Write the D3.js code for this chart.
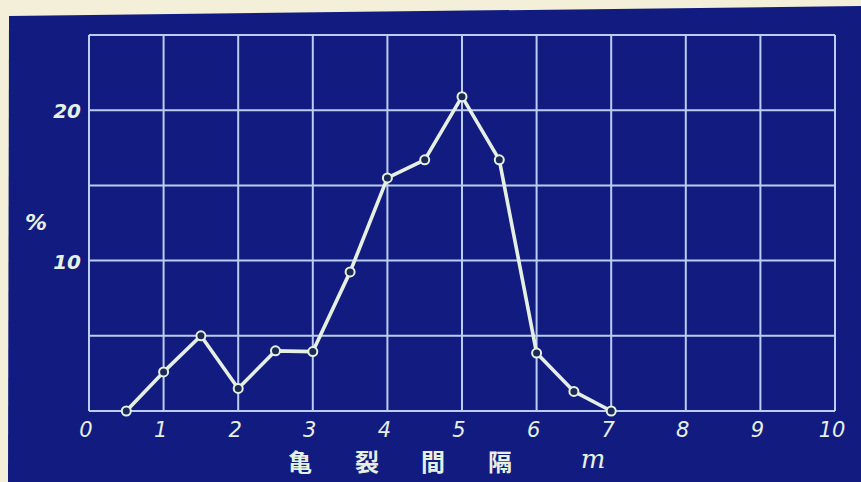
<!DOCTYPE html>
<html>
<head>
<meta charset="utf-8">
<script src="https://cdn.jsdelivr.net/npm/d3@7"></script>
<style>
  html, body { margin: 0; padding: 0; background: #f3efd8; }
  svg { display: block; }
</style>
</head>
<body>
<svg id="chart" width="861" height="482"></svg>
<script>
// Crack spacing (m) and frequency (%)
const spacing = [0.5, 1.0, 1.5, 2.0, 2.5, 3.0, 3.5, 4.0, 4.5, 5.0, 5.5, 6.0, 6.5, 7.0];
const percent = [0, 2.6, 5.0, 1.5, 4.0, 3.95, 9.25, 15.5, 16.7, 20.9, 16.7, 3.85, 1.3, 0];
const xTicks = [0, 1, 2, 3, 4, 5, 6, 7, 8, 9, 10];
const yGrid = [0, 5, 10, 15, 20, 25];
const yLabels = [10, 20];
const xTitle = ["亀", "裂", "間", "隔"];
const xUnit = "m";
const yTitle = "%";

const W = 861, H = 482;
const margin = { left: 89, right: 26, top: 35, bottom: 71 };
const navy = "#111b80";
const gridColor = "#bccdf2";
const ink = "#e6f0e2";

const svg = d3.select("#chart");

// Paper edge and navy blueprint sheet
svg.append("rect").attr("width", W).attr("height", H).attr("fill", "#f3efd8");
svg.append("path")
  .attr("d", `M9,16 L${W},6 L${W},${H} L8,${H} Z`)
  .attr("fill", navy);

const x = d3.scaleLinear().domain([0, 10]).range([margin.left, W - margin.right]);
const y = d3.scaleLinear().domain([0, 25]).range([H - margin.bottom, margin.top]);

// Grid: vertical lines every metre, horizontal every 5 %
const grid = svg.append("g").attr("stroke", gridColor).attr("stroke-width", 2).attr("fill", "none");
grid.selectAll("line.v").data(xTicks).join("line")
  .attr("class", "v")
  .attr("x1", d => x(d)).attr("x2", d => x(d))
  .attr("y1", y(0)).attr("y2", y(25));
grid.selectAll("line.h").data(yGrid).join("line")
  .attr("class", "h")
  .attr("x1", x(0)).attr("x2", x(10))
  .attr("y1", d => y(d)).attr("y2", d => y(d));

const labelFont = "'DejaVu Sans', sans-serif";

// X tick labels
svg.append("g").selectAll("text").data(xTicks).join("text")
  .attr("x", d => x(d) - 3)
  .attr("y", y(0) + 26)
  .attr("text-anchor", "middle")
  .attr("fill", ink)
  .attr("font-family", labelFont)
  .attr("font-style", "italic")
  .attr("font-size", 21)
  .text(d => d);

// Y tick labels
svg.append("g").selectAll("text").data(yLabels).join("text")
  .attr("x", x(0) - 8)
  .attr("y", d => y(d) + 8)
  .attr("text-anchor", "end")
  .attr("fill", ink)
  .attr("font-family", labelFont)
  .attr("font-style", "italic")
  .attr("font-weight", "bold")
  .attr("font-size", 20)
  .text(d => d);

// Y axis title
svg.append("text")
  .attr("x", 36).attr("y", 230)
  .attr("text-anchor", "middle")
  .attr("fill", ink)
  .attr("font-family", labelFont)
  .attr("font-style", "italic")
  .attr("font-weight", "bold")
  .attr("font-size", 22)
  .text(yTitle);

// X axis title
const titleX = [300, 367, 433, 500];
svg.append("g").selectAll("text").data(xTitle).join("text")
  .attr("x", (d, i) => titleX[i])
  .attr("y", 471)
  .attr("text-anchor", "middle")
  .attr("fill", ink)
  .attr("font-family", "'Noto Sans CJK JP', sans-serif")
  .attr("font-weight", "bold")
  .attr("font-size", 24)
  .text(d => d);
svg.append("text")
  .attr("x", 593).attr("y", 468)
  .attr("text-anchor", "middle")
  .attr("fill", ink)
  .attr("font-family", "'DejaVu Serif', serif")
  .attr("font-style", "italic")
  .attr("font-size", 26)
  .text(xUnit);

// Frequency polygon
const pts = spacing.map((s, i) => [s, percent[i]]);
svg.append("path")
  .datum(pts)
  .attr("fill", "none")
  .attr("stroke", ink)
  .attr("stroke-width", 3.6)
  .attr("stroke-linejoin", "round")
  .attr("d", d3.line().x(d => x(d[0])).y(d => y(d[1])));

svg.append("g").selectAll("circle").data(pts).join("circle")
  .attr("cx", d => x(d[0]))
  .attr("cy", d => y(d[1]))
  .attr("r", 4.5)
  .attr("fill", "#1a2a55")
  .attr("stroke", ink)
  .attr("stroke-width", 2);
</script>
</body>
</html>
